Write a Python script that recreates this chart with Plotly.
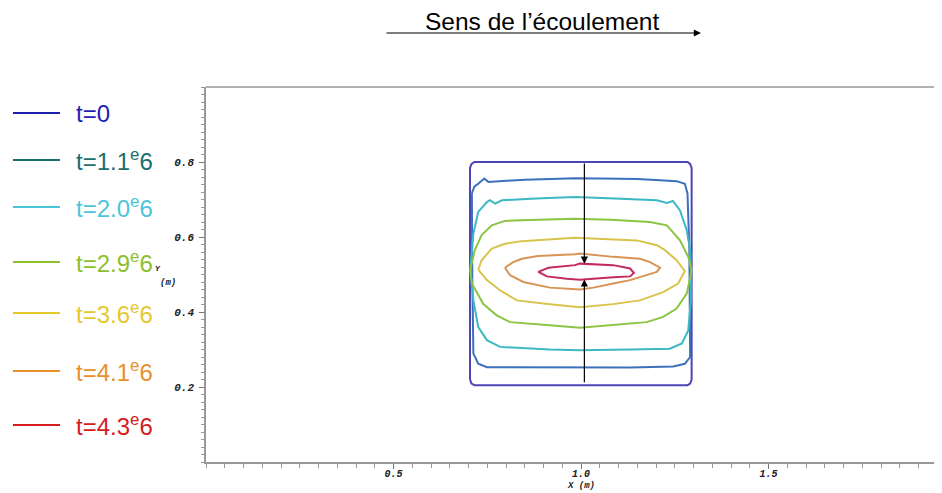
import plotly.graph_objects as go

# ---- data (metres) ----
times = ["t=0", "t=1.1<sup>e</sup>6", "t=2.0<sup>e</sup>6", "t=2.9<sup>e</sup>6",
         "t=3.6<sup>e</sup>6", "t=4.1<sup>e</sup>6", "t=4.3<sup>e</sup>6"]

c0_x = [0.704, 0.704, 0.708, 0.716, 1.284, 1.291, 1.295, 1.295, 1.291, 1.284, 0.716, 0.708, 0.704]
c0_y = [0.22, 0.784, 0.795, 0.800, 0.800, 0.795, 0.784, 0.22, 0.209, 0.205, 0.205, 0.209, 0.22]

c1_x = [0.709, 0.716, 0.726, 0.742, 0.753, 0.779, 0.85, 0.92, 0.984, 1.05, 1.15, 1.2, 1.255, 1.277,
        1.284, 1.289, 1.291, 1.291, 1.277, 1.246, 1.131, 0.997, 0.829, 0.749, 0.726, 0.713, 0.710, 0.709]
c1_y = [0.717, 0.735, 0.742, 0.756, 0.747, 0.749, 0.753, 0.755, 0.757, 0.756, 0.755, 0.752, 0.749, 0.742,
        0.716, 0.565, 0.298, 0.280, 0.262, 0.255, 0.252, 0.252, 0.252, 0.253, 0.262, 0.289, 0.5, 0.717]

c2_x = [0.713, 0.726, 0.749, 0.757, 0.771, 0.789, 0.88, 0.984, 1.09, 1.202, 1.229, 1.245, 1.264, 1.282,
        1.291, 1.293, 1.293, 1.286, 1.269, 1.237, 1.131, 0.997, 0.917, 0.784, 0.749, 0.726, 0.713, 0.705, 0.713]
c2_y = [0.609, 0.667, 0.693, 0.698, 0.689, 0.698, 0.703, 0.707, 0.703, 0.698, 0.691, 0.696, 0.671, 0.618,
        0.565, 0.516, 0.431, 0.351, 0.316, 0.302, 0.300, 0.298, 0.300, 0.307, 0.325, 0.360, 0.431, 0.516, 0.609]

c3_x = [0.704, 0.717, 0.735, 0.762, 0.797, 0.842, 0.984, 1.08, 1.184, 1.229, 1.264, 1.286, 1.295, 1.282,
        1.255, 1.219, 1.175, 1.086, 0.997, 0.917, 0.811, 0.775, 0.739, 0.709, 0.704]
c3_y = [0.511, 0.565, 0.605, 0.631, 0.643, 0.645, 0.649, 0.646, 0.640, 0.631, 0.591, 0.547, 0.511, 0.449,
        0.409, 0.387, 0.373, 0.365, 0.358, 0.365, 0.373, 0.391, 0.422, 0.476, 0.511]

c4_x = [0.726, 0.735, 0.762, 0.797, 0.842, 0.984, 1.149, 1.202, 1.224, 1.255, 1.277, 1.259, 1.219, 1.157,
        1.086, 0.997, 0.917, 0.829, 0.784, 0.749, 0.726]
c4_y = [0.513, 0.538, 0.569, 0.582, 0.589, 0.598, 0.591, 0.578, 0.565, 0.538, 0.509, 0.476, 0.453, 0.431,
        0.421, 0.413, 0.421, 0.431, 0.458, 0.485, 0.513]

c5_x = [0.797, 0.819, 0.842, 0.885, 0.984, 0.997, 1.086, 1.157, 1.184, 1.211, 1.202, 1.175, 1.131, 1.086,
        1.033, 0.997, 0.917, 0.846, 0.811, 0.797]
c5_y = [0.518, 0.533, 0.542, 0.549, 0.554, 0.556, 0.547, 0.542, 0.533, 0.518, 0.507, 0.498, 0.485, 0.476,
        0.465, 0.460, 0.465, 0.480, 0.498, 0.518]

c6_x = [0.886, 0.913, 0.984, 0.997, 1.086, 1.131, 1.141, 1.131, 1.086, 1.033, 0.997, 0.962, 0.909, 0.886]
c6_y = [0.507, 0.518, 0.525, 0.529, 0.525, 0.516, 0.504, 0.495, 0.493, 0.489, 0.486, 0.489, 0.495, 0.507]

arrow_x = 1.009
arrow_down = [0.800, 0.529]   # from, to
arrow_up = [0.209, 0.487]     # from, to

x_ticks = [0.5, 1.0, 1.5]
y_ticks = [0.2, 0.4, 0.6, 0.8]

# ---- styles ----
plot_colors = ["#4e44b4", "#3c70bc", "#3cb8c4", "#8cc443", "#d8c44c", "#d89454", "#c42a5a"]
legend_colors = ["#1e1eb0", "#1a6e6e", "#4cc4d8", "#8cc02c", "#e4c82c", "#e8902c", "#d41c1c"]
legend_py = [113, 160, 207, 262, 313, 371, 425]

OFF = 8                      # page body margin in the browser
WIN_W, WIN_H = 942, 493
W, H = WIN_W - OFF, WIN_H - OFF
ML, MR, MT, MB = 206 - OFF, 0, 87 - OFF, 31
PW, PH = W - ML - MR, H - MT - MB
SCALE = PH / 1.0  # px per metre


def px_x(px):
    return (px - OFF - ML) / PW


def px_y(py):
    return (WIN_H - MB - py) / PH


contours = [(c0_x, c0_y), (c1_x, c1_y), (c2_x, c2_y), (c3_x, c3_y),
            (c4_x, c4_y), (c5_x, c5_y), (c6_x, c6_y)]

fig = go.Figure()
for (cx, cy), name, col in zip(contours, times, plot_colors):
    fig.add_trace(go.Scatter(x=cx, y=cy, mode="lines", name=name, showlegend=False,
                             line=dict(color=col, width=2), hoverinfo="skip"))

mono = dict(family="Liberation Mono", size=11, color="#222222", weight="bold", style="italic")
sans = "Liberation Sans"

annotations = []
shapes = []

# flow arrows inside the square
annotations.append(dict(x=arrow_x, y=arrow_down[1], ax=arrow_x, ay=arrow_down[0],
                        xref="x", yref="y", axref="x", ayref="y", text="", showarrow=True,
                        arrowhead=2, arrowsize=1.2, arrowwidth=1.2, arrowcolor="#000000"))
annotations.append(dict(x=arrow_x, y=arrow_up[1], ax=arrow_x, ay=arrow_up[0],
                        xref="x", yref="y", axref="x", ayref="y", text="", showarrow=True,
                        arrowhead=2, arrowsize=1.2, arrowwidth=1.2, arrowcolor="#000000"))

# title + flow direction arrow
annotations.append(dict(x=px_x(542), y=px_y(21), xref="paper", yref="paper", text="Sens de l’écoulement",
                        showarrow=False, xanchor="center", yanchor="middle",
                        font=dict(family=sans, size=24.5, color="#000000")))
annotations.append(dict(x=px_x(701), y=px_y(33), xref="paper", yref="paper", text="",
                        ax=-316, ay=0, showarrow=True, arrowhead=2, arrowsize=1.2,
                        arrowwidth=1.2, arrowcolor="#000000"))

# manual legend
for name, col, py in zip(times, legend_colors, legend_py):
    shapes.append(dict(type="line", xref="paper", yref="paper", x0=px_x(13), x1=px_x(60),
                       y0=px_y(py), y1=px_y(py), line=dict(color=col, width=2)))
    annotations.append(dict(x=px_x(74), y=px_y(py), xref="paper", yref="paper", text=name,
                            showarrow=False, xanchor="left", yanchor="middle",
                            font=dict(family=sans, size=24, color=col)))

# axis titles
annotations.append(dict(x=px_x(158), y=px_y(268), xref="paper", yref="paper", text="Y",
                        showarrow=False, xanchor="center", yanchor="middle", font=mono | dict(size=8)))
annotations.append(dict(x=px_x(168), y=px_y(283), xref="paper", yref="paper", text="(m)",
                        showarrow=False, xanchor="center", yanchor="middle", font=mono | dict(size=9)))
annotations.append(dict(x=px_x(581), y=px_y(486.5), xref="paper", yref="paper", text="X (m)",
                        showarrow=False, xanchor="center", yanchor="middle", font=mono | dict(size=9)))

# top frame line
shapes.append(dict(type="line", xref="paper", yref="paper", x0=0, x1=1, y0=1, y1=1,
                   line=dict(color="#999999", width=1.5)))

fig.update_layout(
    width=W, height=H,
    margin=dict(l=ML, r=MR, t=MT, b=MB),
    paper_bgcolor="white", plot_bgcolor="white",
    showlegend=False,
    annotations=annotations, shapes=shapes,
    xaxis=dict(range=[0, PW / SCALE], tickvals=x_ticks, ticktext=[f"{v:.1f}" for v in x_ticks],
               showgrid=False, zeroline=False, showline=True, linecolor="#999999", linewidth=1.5,
               ticks="outside", ticklen=5, tickcolor="#777777", tickfont=mono | dict(size=10),
               ticklabelstandoff=-4,
               minor=dict(dtick=0.05, tick0=0, ticks="outside", ticklen=4, tickcolor="#999999", showgrid=False)),
    yaxis=dict(range=[0, 1.0], tickvals=y_ticks, ticktext=[f"{v:.1f}" for v in y_ticks],
               showgrid=False, zeroline=False, showline=True, linecolor="#999999", linewidth=1.5,
               ticks="outside", ticklen=5, tickcolor="#777777", tickfont=mono, ticklabelstandoff=3,
               minor=dict(dtick=0.02, tick0=0, ticks="outside", ticklen=3, tickcolor="#999999", showgrid=False)),
)

fig.write_html("out.html")
